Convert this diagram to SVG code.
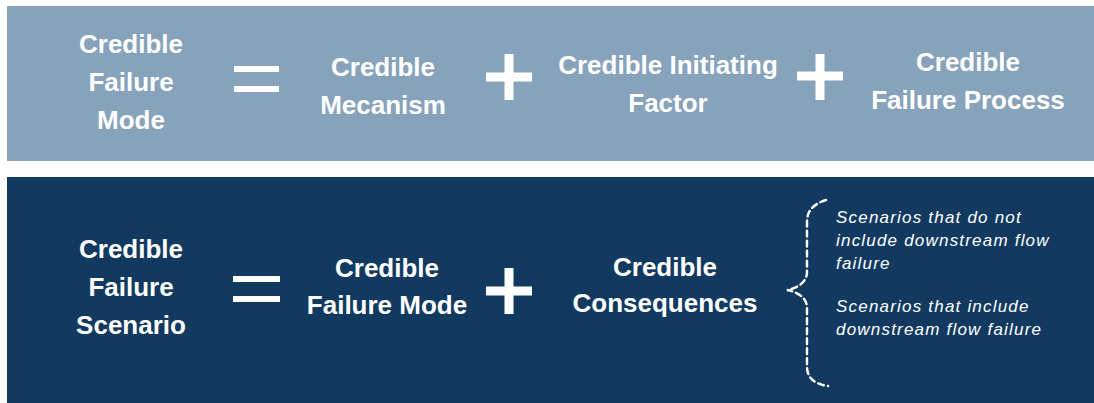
<svg xmlns="http://www.w3.org/2000/svg" width="1094" height="403" viewBox="0 0 1094 403">
  <style>
    .head { font-family: "Liberation Sans", Arial, sans-serif; font-weight: bold; font-size: 26px; fill: #ffffff; text-anchor: middle; }
    .note { font-family: "Liberation Sans", Arial, sans-serif; font-style: italic; font-size: 17px; letter-spacing: 1.2px; fill: #ffffff; }
    .sym { fill: #ffffff; }
    .brace { fill: none; stroke: #ffffff; stroke-width: 2.4; stroke-dasharray: 6 4; stroke-linecap: round; }
  </style>

  <rect x="0" y="0" width="1094" height="403" fill="#ffffff"/>

  <!-- Upper band: failure mode equation -->
  <rect id="band-mode" x="7" y="6" width="1087" height="155" fill="#87a2bb"/>
  <!-- Lower band: failure scenario equation -->
  <rect id="band-scenario" x="7" y="177" width="1087" height="226" fill="#123a60"/>

  <g id="failure-mode">
    <text class="head" x="131" y="53">Credible</text>
    <text class="head" x="131" y="91">Failure</text>
    <text class="head" x="131" y="129">Mode</text>
  </g>
  <g id="mechanism">
    <text class="head" x="383" y="76">Credible</text>
    <text class="head" x="383" y="114">Mecanism</text>
  </g>
  <g id="initiating-factor">
    <text class="head" x="668" y="74">Credible Initiating</text>
    <text class="head" x="668" y="112">Factor</text>
  </g>
  <g id="failure-process">
    <text class="head" x="968" y="71">Credible</text>
    <text class="head" x="968" y="109">Failure Process</text>
  </g>

  <g id="failure-scenario">
    <text class="head" x="131" y="258">Credible</text>
    <text class="head" x="131" y="296">Failure</text>
    <text class="head" x="131" y="334">Scenario</text>
  </g>
  <g id="failure-mode-term">
    <text class="head" x="387" y="277">Credible</text>
    <text class="head" x="387" y="314">Failure Mode</text>
  </g>
  <g id="consequences">
    <text class="head" x="665" y="276">Credible</text>
    <text class="head" x="665" y="312">Consequences</text>
  </g>
  <g id="consequence-cases">
    <text class="note" x="836" y="223">Scenarios that do not</text>
    <text class="note" x="836" y="246">include downstream flow</text>
    <text class="note" x="836" y="269">failure</text>
    <text class="note" x="836" y="312">Scenarios that include</text>
    <text class="note" x="836" y="335">downstream flow failure</text>
  </g>

  <!-- Operators and the dashed brace -->
  <g id="connectors">
    <!-- equals, upper -->
    <rect class="sym" x="234" y="66" width="45" height="6"/>
    <rect class="sym" x="234" y="86" width="45" height="6"/>
    <!-- plus signs, upper -->
    <rect class="sym" x="504.5" y="54" width="9" height="46"/>
    <rect class="sym" x="486" y="72.5" width="46" height="9"/>
    <rect class="sym" x="815.5" y="54" width="9" height="46"/>
    <rect class="sym" x="797" y="71.5" width="46" height="9"/>
    <!-- equals, lower -->
    <rect class="sym" x="233" y="276" width="47" height="6"/>
    <rect class="sym" x="233" y="296" width="47" height="6"/>
    <!-- plus sign, lower -->
    <rect class="sym" x="504.5" y="268" width="9" height="46"/>
    <rect class="sym" x="486" y="286.5" width="46" height="9"/>
    <!-- curly brace -->
    <path class="brace" d="M826 200 C814 204 807 210 807 222 L807 272 C807 282 798 288 787 290 C798 292 807 298 807 308 L807 366 C807 378 814 384 828 386"/>
  </g>
</svg>
